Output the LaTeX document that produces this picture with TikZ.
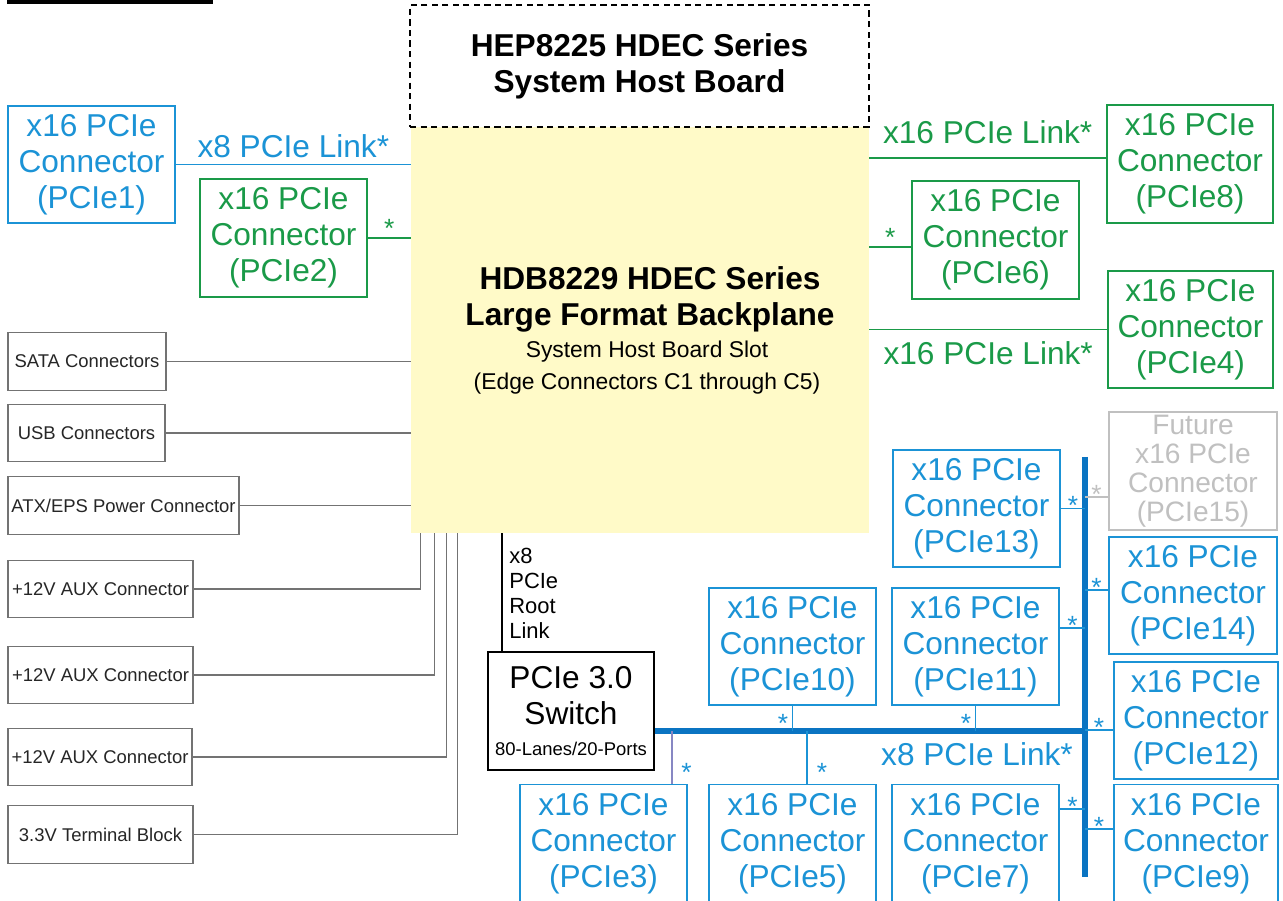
\documentclass[tikz,border=0pt]{standalone}
\usepackage{fontspec}
\setmainfont{Liberation Sans}
\usepackage{xcolor}
\usetikzlibrary{positioning}

\definecolor{pcieblue}{RGB}{27,147,214}
\definecolor{busblue}{RGB}{10,116,194}
\definecolor{pciegreen}{RGB}{26,154,72}
\definecolor{futuregray}{RGB}{192,192,192}
\definecolor{bpyellow}{RGB}{255,250,200}
\definecolor{wiregray}{RGB}{115,115,115}
\definecolor{stubpurple}{RGB}{135,135,195}

\newcommand{\pcielabel}[1]{x16 PCIe\\Connector\\(PCIe#1)}

\begin{document}
\begin{tikzpicture}[
    x=0.02cm, y=-0.02cm,
    every node/.style={inner sep=0pt},
    slot/.style={draw=pcieblue, text=pcieblue, line width=1.1pt, align=center, minimum width=3.34cm, minimum height=2.36cm, font=\fontsize{18}{20.5}\selectfont},
    greenslot/.style={slot, draw=pciegreen, text=pciegreen},
    futureslot/.style={slot, draw=futuregray, text=futuregray, font=\fontsize{16}{16.5}\selectfont},
    iobox/.style={draw=wiregray, line width=0.8pt, minimum height=1.15cm, text=black!85, font=\fontsize{10.5}{12}\selectfont},
    wire/.style={draw=wiregray, line width=0.8pt},
    link/.style={draw=pcieblue, line width=1.1pt},
    greenlink/.style={draw=pciegreen, line width=1.1pt},
    bus/.style={draw=busblue, line width=3pt},
    linklabel/.style={font=\fontsize{18}{20.5}\selectfont},
    ast/.style={font=\fontsize{15}{15}\selectfont, text=pcieblue},
    astup/.style={ast, above=-4pt}
    ]
    \useasboundingbox (0,0) rectangle (1283,901);
    \fill[white] (0,0) rectangle (1283,901);
    \fill[black] (7,0) rectangle (213,4);

    \node[fill=bpyellow, minimum width=9.16cm, minimum height=8.12cm] (bp) at (640,330) {};
    \node[draw, dashed, dash pattern=on 3.5pt off 2.5pt, line width=0.8pt, minimum width=9.18cm, minimum height=2.44cm, align=center, font=\bfseries\fontsize{18}{20.5}\selectfont] (hostbrd) at (639.5,66) {HEP8225 HDEC Series\\System Host Board};
    \node[align=center, font=\bfseries\fontsize{18}{20.5}\selectfont] (bptitle) at (650,299) {HDB8229 HDEC Series\\Large Format Backplane};
    \node[align=center, font=\fontsize{13}{18.2}\selectfont] (bpsub) at (647,368) {System Host Board Slot\\(Edge Connectors C1 through C5)};

    \node[slot, minimum height=2.34cm] (pcie1) at (91.5,164.5) {\pcielabel{1}};
    \node[greenslot] (pcie2) at (283.5,238) {\pcielabel{2}};
    \node[iobox, minimum width=3.16cm] (sata) at (87,361.5) {SATA Connectors};
    \node[iobox, minimum width=3.14cm] (usb) at (86.5,433) {USB Connectors};
    \node[iobox, minimum width=4.62cm] (atx) at (123.5,505.5) {ATX/EPS Power Connector};
    \node[iobox, minimum width=3.70cm] (aux1) at (100.5,589) {+12V AUX Connector};
    \node[iobox, minimum width=3.70cm] (aux2) at (100.5,675) {+12V AUX Connector};
    \node[iobox, minimum width=3.68cm] (aux3) at (100,757) {+12V AUX Connector};
    \node[iobox, minimum width=3.70cm] (term) at (100.5,834.5) {3.3V Terminal Block};

    \node[greenslot, minimum width=3.32cm] (pcie8) at (1190,164) {\pcielabel{8}};
    \node[greenslot] (pcie6) at (995.5,240) {\pcielabel{6}};
    \node[greenslot, minimum width=3.30cm, minimum height=2.34cm] (pcie4) at (1190.5,329.5) {\pcielabel{4}};

    \node[slot, draw=black, text=black, minimum width=3.32cm] (switch) at (571,711) {PCIe 3.0\\Switch\\[-3pt]{\fontsize{10.5}{12}\selectfont 80-Lanes/20-Ports}};
    \node[slot, minimum height=2.34cm] (pcie10) at (792.5,646.5) {\pcielabel{10}};
    \node[slot, minimum height=2.34cm] (pcie11) at (975.5,646.5) {\pcielabel{11}};
    \node[slot, minimum height=2.34cm] (pcie13) at (976.5,508.5) {\pcielabel{13}};
    \node[futureslot, minimum width=3.36cm] (pcie15) at (1193,471) {Future\\x16 PCIe\\Connector\\(PCIe15)};
    \node[slot, minimum width=3.36cm, minimum height=2.34cm] (pcie14) at (1193,595.5) {\pcielabel{14}};
    \node[slot, minimum width=3.28cm, minimum height=2.34cm] (pcie12) at (1196,720.5) {\pcielabel{12}};
    \node[slot, minimum width=3.28cm] (pcie9) at (1196,843.5) {\pcielabel{9}};
    \node[slot] (pcie7) at (975.5,843.5) {\pcielabel{7}};
    \node[slot] (pcie3) at (603.5,843.5) {\pcielabel{3}};
    \node[slot] (pcie5) at (792.5,843.5) {\pcielabel{5}};

    \draw[link] (pcie1.east) -- (pcie1.east -| bp.west) node[midway, above=3pt, linklabel, text=pcieblue] (lnk1) {x8 PCIe Link*};
    \draw[greenlink] (pcie2.east) -- (pcie2.east -| bp.west) node[midway, above, ast, text=pciegreen] (st2) {*};
    \draw[wire] (sata.east) -- (sata.east -| bp.west);
    \draw[wire] (usb.east) -- (usb.east -| bp.west);
    \draw[wire] (atx.east) -- (atx.east -| bp.west);
    \draw[wire] (aux1.east) -| ([xshift=0.2cm]bp.south west);
    \draw[wire] (aux2.east) -| ([xshift=0.48cm]bp.south west);
    \draw[wire] (aux3.east) -| ([xshift=0.72cm]bp.south west);
    \draw[wire] (term.east) -| ([xshift=0.94cm]bp.south west);

    \draw[greenlink] ([yshift=0.12cm]pcie8.west) coordinate (p8) -- (p8 -| bp.east) node[midway, above=7.7pt, linklabel, text=pciegreen] (lnk8) {x16 PCIe Link*};
    \draw[greenlink] ([yshift=-0.14cm]pcie6.west) coordinate (p6) -- (p6 -| bp.east) node[midway, above, ast, text=pciegreen] (st6) {*};
    \draw[greenlink] (pcie4.west) -- (pcie4.west -| bp.east) node[midway, below=6.5pt, linklabel, text=pciegreen] (lnk4) {x16 PCIe Link*};

    \draw[black, line width=0.8pt] ([xshift=0.3cm]switch.north west) coordinate (rootlnk) -- (rootlnk |- bp.south);
    \node[anchor=north west, align=left, font=\fontsize{12.5}{14.2}\selectfont] (rootlbl) at (509,548) {x8\\PCIe\\Root\\Link};

    \coordinate (bustop) at (1085,457);
    \coordinate (busbot) at (1085,877);
    \draw[bus] ([yshift=-0.4cm]switch.east) coordinate (busl) -- (busl -| bustop);
    \draw[bus] (bustop) -- (busbot);
    \node[linklabel, text=pcieblue] (lnkbus) at (977,754) {x8 PCIe Link*};

    \draw[link] (pcie10.south) -- (pcie10.south |- busl) node[midway, left=2pt, yshift=-0.1cm, ast] (st10) {*};
    \draw[link] (pcie11.south) -- (pcie11.south |- busl) node[midway, left=2pt, yshift=-0.1cm, ast] (st11b) {*};
    \draw[stubpurple, line width=0.8pt] ([xshift=-0.32cm]pcie3.north east) coordinate (p3) -- (p3 |- busl) node[pos=0.3, right=5pt, yshift=-0.1cm, ast] (st3) {*};
    \draw[link] ([xshift=0.29cm]pcie5.north) coordinate (p5) -- (p5 |- busl) node[pos=0.3, right=5pt, yshift=-0.1cm, ast] (st5) {*};

    \draw[link] (pcie13.east) -- (pcie13.east -| bustop) node[midway, astup] (st13) {*};
    \draw[link] ([yshift=0.37cm]pcie11.east) coordinate (p11) -- (p11 -| bustop) node[midway, astup] (st11r) {*};
    \draw[link] ([yshift=0.69cm]pcie7.east) coordinate (p7) -- (p7 -| bustop) node[midway, astup] (st7) {*};
    \draw[futuregray, line width=1.1pt] ([yshift=-0.52cm]pcie15.west) coordinate (p15) -- (p15 -| bustop) node[midway, astup, text=futuregray] (st15) {*};
    \draw[link] ([yshift=0.11cm]pcie14.west) coordinate (p14) -- (p14 -| bustop) node[midway, astup] (st14) {*};
    \draw[link] ([yshift=-0.19cm]pcie12.west) coordinate (p12) -- (p12 -| bustop) node[midway, astup] (st12) {*};
    \draw[link] ([yshift=0.29cm]pcie9.west) coordinate (p9) -- (p9 -| bustop) node[midway, astup] (st9) {*};
\end{tikzpicture}
\end{document}
